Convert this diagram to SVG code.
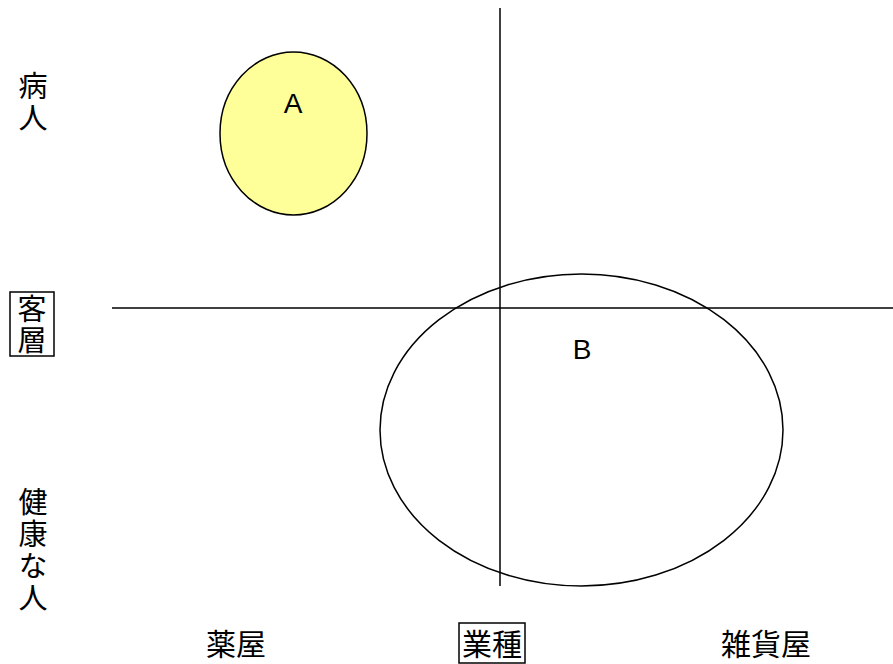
<svg xmlns="http://www.w3.org/2000/svg" width="893" height="664" viewBox="0 0 893 664">
<style>
.ax{stroke:#000;stroke-width:1.5;fill:none}
.el{stroke:#000;stroke-width:1.5}
.t{font-family:"Noto Sans CJK JP","Noto Sans",sans-serif;font-size:30px;fill:#000;text-anchor:middle}
.v{font-family:"Noto Sans CJK JP","Noto Sans",sans-serif;font-size:29px;fill:#000;writing-mode:vertical-rl;letter-spacing:3px}
.l{font-family:"Liberation Sans",Arial,sans-serif;font-size:28px;fill:#000;text-anchor:middle}
.box{fill:none;stroke:#000;stroke-width:1.5}
</style>
<rect width="893" height="664" fill="#fff"/>
<g id="connectors">
<line class="ax" x1="500" y1="8" x2="500" y2="586"/>
<line class="ax" x1="112" y1="308" x2="893" y2="308"/>
</g>
<g id="nodeA">
<ellipse class="el" cx="293.5" cy="133.5" rx="73.5" ry="81.5" fill="#ffff99"/>
<text class="l" x="293" y="113">A</text>
</g>
<g id="nodeB">
<ellipse class="el" cx="581.5" cy="430" rx="201.5" ry="156" fill="none"/>
<text class="l" x="582" y="359">B</text>
</g>
<g id="label-sick">
<text class="v" x="33" y="71">病人</text>
</g>
<g id="label-customer">
<rect class="box" x="10" y="292" width="44" height="64"/>
<text class="v" x="32" y="294" style="letter-spacing:2px">客層</text>
</g>
<g id="label-healthy">
<text class="v" x="33" y="487">健康な人</text>
</g>
<g id="label-pharmacy">
<text class="t" x="236" y="655">薬屋</text>
</g>
<g id="label-industry">
<rect class="box" x="459" y="623" width="66" height="40"/>
<text class="t" x="492" y="655">業種</text>
</g>
<g id="label-general">
<text class="t" x="766" y="655">雑貨屋</text>
</g>
</svg>
